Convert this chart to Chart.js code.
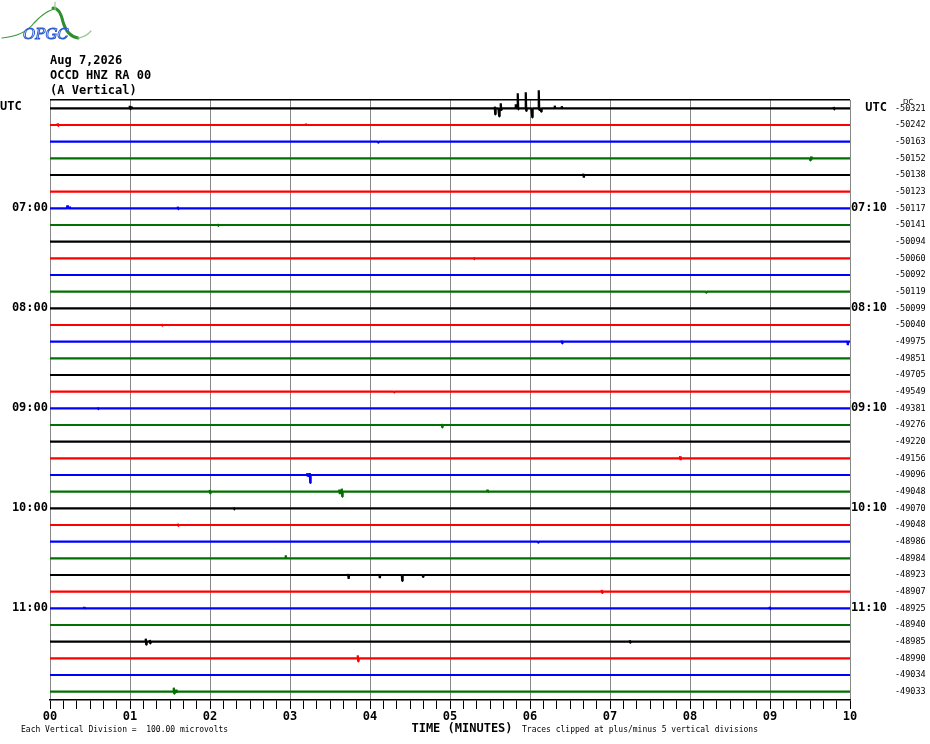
<!DOCTYPE html>
<html><head><meta charset="utf-8">
<script src="https://cdn.jsdelivr.net/npm/chart.js@4/dist/chart.umd.min.js"></script>
<style>html,body{margin:0;padding:0;background:#fff}canvas{display:block}</style>
</head><body>
<canvas id="c" width="930" height="744"></canvas>
<script>
// ---------------- data ----------------
const headerLines = ["Aug 7,2026", "OCCD HNZ RA 00", "(A Vertical)"];
const minuteLabels = ["00","01","02","03","04","05","06","07","08","09","10"];
const hourRows = [0, 6, 12, 18, 24, 30];
const leftHourText = ["UTC", "07:00", "08:00", "09:00", "10:00", "11:00"];
const rightHourText = ["UTC", "07:10", "08:10", "09:10", "10:10", "11:10"];
const dcOffsets = [-50321,-50242,-50163,-50152,-50138,-50123,-50117,-50141,-50094,-50060,
  -50092,-50119,-50099,-50040,-49975,-49851,-49705,-49549,-49381,-49276,-49220,-49156,
  -49096,-49048,-49070,-49048,-48986,-48984,-48923,-48907,-48925,-48940,-48985,-48990,
  -49034,-49033];
const traceColors = ["#000000", "#ff0000", "#0000ff", "#007000"];
// deflections per trace: [minute, peak up, peak down] in trace spacings
const traceEvents = [
  [[1.0,0.15,-0.05],[1.02,0.1,0],[5.5625,0.1,-0.36],[5.6125,0,-0.48],[5.6375,0.3,-0.1],[5.825,0.24,0],[5.85,0.9,-0.06],[5.95,0.96,-0.16],[6.025,0,-0.54],[6.1125,1.08,-0.1],[6.1375,0,-0.2],[6.3125,0.16,0],[6.4,0.12,0],[9.8,0.08,-0.06]],
  [[0.1,0.1,-0.05],[3.2,0.08,0]],
  [[4.1,0.06,-0.06]],
  [[9.5,0.05,-0.12],[9.52,0.1,-0.05]],
  [[6.67,0.06,-0.16]],
  [],
  [[0.22,0.18,0],[0.25,0.1,0],[1.6,0.1,-0.05]],
  [[2.1,0.06,-0.05]],
  [],
  [[5.3,0.06,-0.05]],
  [],
  [[8.2,0.06,-0.06]],
  [],
  [[1.4,0.06,-0.04]],
  [[6.4,0.08,-0.1],[9.97,0.05,-0.2]],
  [],
  [],
  [[4.3,0.06,-0.05]],
  [[0.6,0.06,-0.05]],
  [[4.9,0.06,-0.14]],
  [],
  [[7.88,0.12,-0.1]],
  [[3.22,0.1,-0.1],[3.25,0.12,-0.48]],
  [[2.0,0.1,-0.1],[3.62,0.12,-0.15],[3.65,0.18,-0.3],[5.47,0.12,-0.05]],
  [[2.3,0.06,-0.06]],
  [[1.6,0.08,-0.05]],
  [[6.1,0.06,-0.06]],
  [[2.95,0.18,0]],
  [[3.73,0.05,-0.24],[4.12,0.04,-0.18],[4.4,0.05,-0.36],[4.66,0.05,-0.12]],
  [[6.9,0.1,-0.08]],
  [[0.43,0.08,-0.06],[9.0,0.1,-0.05]],
  [],
  [[1.2,0.18,-0.18],[1.25,0.1,-0.1],[7.25,0.08,-0.06]],
  [[3.85,0.18,-0.18]],
  [],
  [[1.55,0.24,-0.12],[1.58,0.12,-0.06]]
];
const captionLeft = "Each Vertical Division =  100.00 microvolts";
const captionTime = "TIME (MINUTES)";
const captionRight = "Traces clipped at plus/minus 5 vertical divisions";

// ---------------- build ----------------
const nRows = dcOffsets.length;
const rowCenters = dcOffsets.map((_, i) => i + 0.5);
const datasets = traceEvents.map((evs, i) => {
  const c = i + 0.5;
  const pts = [{x: 0, y: c}];
  evs.slice().sort((a, b) => a[0] - b[0]).forEach(([m, up, dn]) => {
    pts.push({x: m - 0.008, y: c});
    pts.push({x: m - 0.003, y: c - up});
    pts.push({x: m + 0.003, y: c - dn});
    pts.push({x: m + 0.008, y: c});
  });
  pts.push({x: 10, y: c});
  return {
    data: pts, borderColor: traceColors[i % 4], borderWidth: 2.2,
    borderJoinStyle: 'bevel', borderCapStyle: 'butt',
    pointRadius: 0, tension: 0, clip: false, fill: false
  };
});

const monoBold = (s) => ({family: '"DejaVu Sans Mono", monospace', size: s, weight: 'bold'});
const rowTicks = (s) => { s.ticks = [{value: 0}].concat(rowCenters.map(v => ({value: v}))); };
const rowIndex = (v) => Math.round(v - 0.5);

const textPlugin = {
  id: 'texts',
  afterDraw(chart) {
    const ctx = chart.ctx;
    ctx.save();
    ctx.fillStyle = '#000';
    ctx.textBaseline = 'middle';
    ctx.font = 'bold 12px "DejaVu Sans Mono", monospace';
    ctx.textAlign = 'left';
    headerLines.forEach((t, k) => ctx.fillText(t, 50, 61 + k * 15));
    ctx.fillText(leftHourText[0], 0, 107);
    ctx.textAlign = 'center';
    ctx.fillText(captionTime, 462, 729);
    ctx.font = '8px "DejaVu Sans Mono", monospace';
    ctx.textAlign = 'left';
    ctx.fillText(captionLeft, 21, 730);
    ctx.fillText(captionRight, 522, 730);
    ctx.font = '7px "DejaVu Sans", sans-serif';
    ctx.fillText('DC', 903, 102);
    // logo
    ctx.lineCap = 'round';
    ctx.strokeStyle = '#3c9a3c'; ctx.lineWidth = 1.2;
    ctx.beginPath(); ctx.moveTo(2, 38); ctx.quadraticCurveTo(24, 36, 34, 23); ctx.quadraticCurveTo(44, 12, 54, 9); ctx.stroke();
    ctx.strokeStyle = '#2f8f2f'; ctx.lineWidth = 3;
    ctx.beginPath(); ctx.moveTo(53, 8); ctx.quadraticCurveTo(60, 8, 63, 22); ctx.quadraticCurveTo(67, 36, 78, 38); ctx.stroke();
    ctx.strokeStyle = '#93c993'; ctx.lineWidth = 1.2;
    ctx.beginPath(); ctx.moveTo(78, 38); ctx.quadraticCurveTo(86, 37, 91, 31); ctx.stroke();
    ctx.beginPath(); ctx.moveTo(55, 2); ctx.lineTo(55, 10); ctx.stroke();
    ctx.font = 'italic 15px "DejaVu Serif", serif';
    ctx.textAlign = 'left';
    ctx.fillStyle = '#ffffff';
    ctx.fillText('OPGC', 23, 35);
    ctx.strokeStyle = '#2a5bd0'; ctx.lineWidth = 1;
    ctx.strokeText('OPGC', 23, 35);
    ctx.restore();
  }
};

new Chart(document.getElementById('c'), {
  type: 'line',
  data: {datasets},
  options: {
    responsive: false, animation: false, devicePixelRatio: 1,
    layout: {padding: {top: 100, left: 0, right: 0, bottom: 0}},
    plugins: {legend: {display: false}, tooltip: {enabled: false}},
    scales: {
      x: {
        type: 'linear', min: 0, max: 10, position: 'bottom',
        afterBuildTicks: (s) => { const t = []; for (let k = 0; k <= 60; k++) t.push({value: k / 6}); s.ticks = t; },
        afterFit: (s) => { s.height = 44; },
        ticks: {
          autoSkip: false, maxRotation: 0, minRotation: 0, padding: 1,
          color: '#000', font: monoBold(12),
          callback: (v) => Math.abs(v - Math.round(v)) < 1e-6 ? minuteLabels[Math.round(v)] : ''
        },
        grid: {
          drawOnChartArea: true, drawTicks: true, tickLength: 9, tickWidth: 1,
          tickColor: '#000', lineWidth: 1,
          color: (ctx) => (ctx.tick && Math.abs(ctx.tick.value - Math.round(ctx.tick.value)) < 1e-6) ? '#888888' : 'rgba(0,0,0,0)'
        },
        border: {display: true, color: '#000', width: 1.5}
      },
      y: {
        type: 'linear', min: 0, max: nRows, reverse: true, position: 'left',
        afterBuildTicks: rowTicks,
        afterFit: (s) => { s.width = 50; },
        ticks: {
          autoSkip: false, padding: 2, color: '#000', font: monoBold(12),
          callback: (v) => { const i = rowIndex(v); const h = hourRows.indexOf(i); return (v > 0 && h > 0) ? leftHourText[h] : ''; }
        },
        grid: {drawTicks: false, lineWidth: 1.5, color: (ctx) => (ctx.tick && ctx.tick.value === 0) ? '#000' : 'rgba(0,0,0,0)'},
        border: {display: false}
      },
      yHour: {
        type: 'linear', min: 0, max: nRows, reverse: true, position: 'right', weight: 0,
        afterBuildTicks: rowTicks,
        afterFit: (s) => { s.width = 37; },
        ticks: {
          autoSkip: false, padding: 0, crossAlign: 'far', color: '#000', font: monoBold(12),
          callback: (v) => { const i = rowIndex(v); const h = hourRows.indexOf(i); return (v > 0 && h >= 0) ? rightHourText[h] : ''; }
        },
        grid: {display: false, drawTicks: false},
        border: {display: false}
      },
      yDC: {
        type: 'linear', min: 0, max: nRows, reverse: true, position: 'right', weight: 1,
        afterBuildTicks: rowTicks,
        afterFit: (s) => { s.width = 43; },
        ticks: {
          autoSkip: false, padding: 8, crossAlign: 'near', color: '#000',
          font: {family: '"DejaVu Sans Mono", monospace', size: 8.5},
          callback: (v) => v > 0 ? String(dcOffsets[rowIndex(v)]) : ''
        },
        grid: {display: false, drawTicks: false},
        border: {display: false}
      }
    }
  },
  plugins: [textPlugin]
});
</script>
</body></html>
